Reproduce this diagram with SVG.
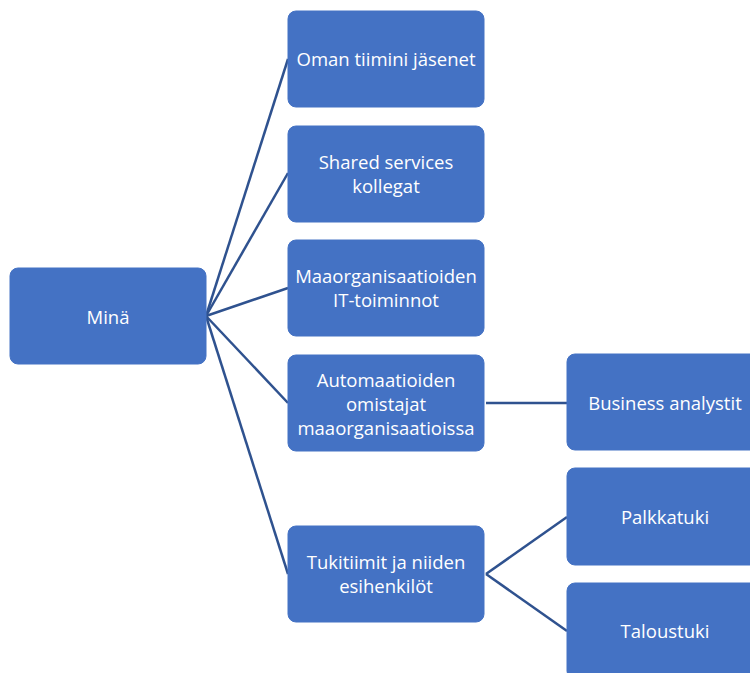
<svg xmlns="http://www.w3.org/2000/svg" width="750" height="673" viewBox="0 0 750 673">
  <style>
    .box { fill: #4472C4; stroke: #4472C4; stroke-width: 1; }
    .lbl { fill: #FFFFFF; font-family: "Open Sans", "Liberation Sans", sans-serif; font-size: 18.5px; text-anchor: middle; dominant-baseline: central; }
    .link { stroke: #2F528F; stroke-width: 2.5; fill: none; }
  </style>
  <rect width="750" height="673" fill="#FFFFFF"/>

  <g id="connectors">
    <line class="link" x1="206" y1="316" x2="288" y2="59"/>
    <line class="link" x1="206" y1="316" x2="288" y2="173"/>
    <line class="link" x1="206" y1="316" x2="288" y2="288"/>
    <line class="link" x1="206" y1="316" x2="288" y2="403"/>
    <line class="link" x1="206" y1="316" x2="288" y2="574"/>
    <line class="link" x1="486" y1="403" x2="567" y2="403"/>
    <line class="link" x1="486" y1="574" x2="567" y2="517"/>
    <line class="link" x1="486" y1="574" x2="567" y2="631"/>
  </g>

  <g id="mina">
    <rect class="box" x="10" y="268" width="196" height="96" rx="8"/>
    <text class="lbl" x="108" y="316">Minä</text>
  </g>

  <g id="oman-tiimi">
    <rect class="box" x="288" y="11" width="196" height="96" rx="8"/>
    <text class="lbl" x="386" y="58">Oman tiimini jäsenet</text>
  </g>

  <g id="shared-services">
    <rect class="box" x="288" y="126" width="196" height="96" rx="8"/>
    <text class="lbl" x="386" y="161">Shared services</text>
    <text class="lbl" x="386" y="185">kollegat</text>
  </g>

  <g id="maaorganisaatiot-it">
    <rect class="box" x="288" y="240" width="196" height="96" rx="8"/>
    <text class="lbl" x="386" y="275">Maaorganisaatioiden</text>
    <text class="lbl" x="386" y="299">IT-toiminnot</text>
  </g>

  <g id="automaatioiden-omistajat">
    <rect class="box" x="288" y="355" width="196" height="96" rx="8"/>
    <text class="lbl" x="386" y="379">Automaatioiden</text>
    <text class="lbl" x="386" y="403">omistajat</text>
    <text class="lbl" x="386" y="427">maaorganisaatioissa</text>
  </g>

  <g id="tukitiimit">
    <rect class="box" x="288" y="526" width="196" height="96" rx="8"/>
    <text class="lbl" x="386" y="561">Tukitiimit ja niiden</text>
    <text class="lbl" x="386" y="585">esihenkilöt</text>
  </g>

  <g id="business-analystit">
    <rect class="box" x="567" y="354" width="196" height="96" rx="8"/>
    <text class="lbl" x="665" y="402">Business analystit</text>
  </g>

  <g id="palkkatuki">
    <rect class="box" x="567" y="468" width="196" height="97" rx="8"/>
    <text class="lbl" x="665" y="516">Palkkatuki</text>
  </g>

  <g id="taloustuki">
    <rect class="box" x="567" y="583" width="196" height="96" rx="8"/>
    <text class="lbl" x="665" y="630">Taloustuki</text>
  </g>
</svg>
